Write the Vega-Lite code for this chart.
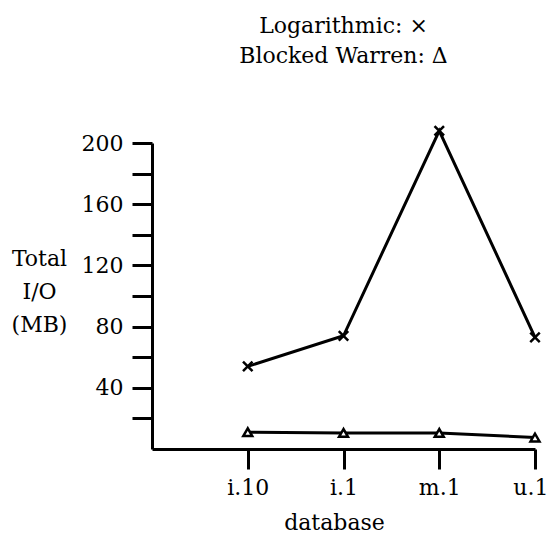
{
  "$schema": "https://vega.github.io/schema/vega-lite/v6.json",
  "autosize": "none",
  "width": 383,
  "height": 306,
  "padding": {"left": 152, "top": 143, "right": 14, "bottom": 87},
  "background": "white",
  "config": {
    "view": {"stroke": null},
    "font": "DejaVu Serif"
  },
  "title": {
    "text": ["Logarithmic: \u00d7", "Blocked Warren: \u0394"],
    "font": "DejaVu Serif",
    "fontSize": 22,
    "fontWeight": "normal",
    "lineHeight": 30,
    "anchor": "middle",
    "offset": 53,
    "color": "black"
  },
  "data": {
    "values": [
      {"database": "i.10", "method": "Logarithmic", "io": 54},
      {"database": "i.1", "method": "Logarithmic", "io": 74},
      {"database": "m.1", "method": "Logarithmic", "io": 208},
      {"database": "u.1", "method": "Logarithmic", "io": 73},
      {"database": "i.10", "method": "Blocked Warren", "io": 11},
      {"database": "i.1", "method": "Blocked Warren", "io": 10.5},
      {"database": "m.1", "method": "Blocked Warren", "io": 10.5},
      {"database": "u.1", "method": "Blocked Warren", "io": 7.5}
    ]
  },
  "encoding": {
    "x": {
      "field": "database",
      "type": "ordinal",
      "scale": {"type": "point", "domain": ["", "i.10", "i.1", "m.1", "u.1"], "padding": 0},
      "axis": {
        "values": ["i.10", "i.1", "m.1", "u.1"],
        "title": "database",
        "titleFont": "DejaVu Serif",
        "titleFontSize": 22,
        "titleFontWeight": "normal",
        "titleColor": "black",
        "titleX": 182,
        "titleY": 80,
        "titleBaseline": "alphabetic",
        "titleAnchor": null,
        "labelFont": "DejaVu Serif",
        "labelFontSize": 22,
        "labelColor": "black",
        "labelAngle": 0,
        "labelPadding": 8,
        "labelFlush": 1,
        "labelFlushOffset": 13,
        "tickSize": 20,
        "tickWidth": 3,
        "tickColor": "black",
        "domainColor": "black",
        "domainWidth": 3,
        "grid": false
      }
    },
    "y": {
      "field": "io",
      "type": "quantitative",
      "scale": {"domain": [0, 200], "nice": false, "zero": true},
      "axis": {
        "values": [20, 40, 60, 80, 100, 120, 140, 160, 180, 200],
        "labelExpr": "datum.value % 40 == 0 ? datum.label : ''",
        "title": ["Total", "I/O", "(MB)"],
        "titleAngle": 0,
        "titleAlign": "center",
        "titleBaseline": "alphabetic",
        "titleX": -113,
        "titleY": 122,
        "titleLineHeight": 33,
        "titleFont": "DejaVu Serif",
        "titleFontSize": 22,
        "titleFontWeight": "normal",
        "titleColor": "black",
        "labelFont": "DejaVu Serif",
        "labelFontSize": 22,
        "labelColor": "black",
        "labelPadding": 9,
        "tickSize": 20,
        "tickWidth": 3,
        "tickColor": "black",
        "domainColor": "black",
        "domainWidth": 3,
        "grid": false
      }
    }
  },
  "layer": [
    {
      "mark": {"type": "line", "color": "black", "strokeWidth": 3},
      "encoding": {"detail": {"field": "method"}}
    },
    {
      "mark": {"type": "point", "filled": true, "fill": "white", "stroke": "black", "strokeWidth": 2.5, "opacity": 1},
      "encoding": {
        "shape": {
          "field": "method",
          "type": "nominal",
          "scale": {"domain": ["Logarithmic", "Blocked Warren"], "range": ["M-1,-1L1,1M-1,1L1,-1", "triangle-up"]},
          "legend": null
        },
        "size": {
          "field": "method",
          "type": "nominal",
          "scale": {"domain": ["Logarithmic", "Blocked Warren"], "range": [90, 80]},
          "legend": null
        }
      }
    }
  ]
}
